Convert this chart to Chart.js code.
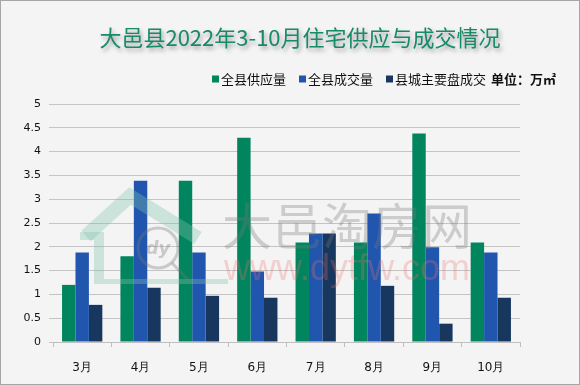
<!DOCTYPE html>
<html>
<head>
<meta charset="utf-8">
<script src="https://cdn.jsdelivr.net/npm/chart.js@4/dist/chart.umd.min.js"></script>
<style>
  html, body { margin: 0; padding: 0; background: #f4f4f4; }
  #wrap { width: 580px; height: 385px; }
</style>
</head>
<body>
<div id="wrap"><canvas id="myChart" width="580" height="385"></canvas></div>
<script>
// du lieu doc tu hinh
const gMonths = ["3月", "4月", "5月", "6月", "7月", "8月", "9月", "10月"];
const gSupply = [1.2, 1.8, 3.39, 4.29, 2.09, 2.09, 4.38, 2.09];
const gDeal = [1.88, 3.39, 1.88, 1.48, 2.28, 2.7, 1.99, 1.88];
const gCityDeal = [0.78, 1.14, 0.97, 0.93, 2.28, 1.18, 0.385, 0.93];
const gSeriesNames = ["全县供应量", "全县成交量", "县城主要盘成交"];
const gColors = ["#00855f", "#2156ae", "#17375e"];

const gTitle = "大邑县2022年3-10月住宅供应与成交情况";
const gUnit = "单位：万㎡";

// nen + vien
const bgPlugin = {
   id: "bgPlugin",
   beforeDraw: function (chart) {
      var ctx = chart.ctx;
      ctx.save();
      ctx.fillStyle = "#f4f4f4";
      ctx.fillRect(0, 0, chart.width, chart.height);
      ctx.strokeStyle = "#a6a6a6";
      ctx.lineWidth = 1;
      ctx.strokeRect(0.5, 0.5, chart.width - 1, chart.height - 1);
      ctx.restore();
   },
   afterDraw: function (chart) {
      var ctx = chart.ctx;
      ctx.save();
      // tieu de
      ctx.font = "22px 'Noto Sans CJK SC'";
      ctx.textAlign = "center";
      ctx.textBaseline = "middle";
      ctx.shadowColor = "rgba(0,0,0,0.35)";
      ctx.shadowBlur = 4;
      ctx.shadowOffsetX = 2;
      ctx.shadowOffsetY = 3;
      ctx.fillStyle = "#168a69";
      ctx.fillText(gTitle, 300, 38);
      ctx.restore();

      // chu thich
      ctx.save();
      ctx.font = "13px 'Noto Sans CJK SC'";
      ctx.textBaseline = "middle";
      var vX = 212;
      var vY = 79;
      chart.data.datasets.forEach(function (ds) {
         ctx.fillStyle = ds.backgroundColor;
         ctx.fillRect(vX, vY - 3.5, 7, 7);
         ctx.fillStyle = "#111";
         ctx.fillText(ds.label, vX + 9, vY);
         vX += 9 + ctx.measureText(ds.label).width + 13;
      });
      ctx.font = "bold 13px 'Noto Sans CJK SC'";
      ctx.fillText(gUnit, 491, vY);
      ctx.restore();
   },
   afterDatasetsDraw: function (chart) {
      // watermark
      var ctx = chart.ctx;
      ctx.save();
      ctx.lineCap = "butt";
      ctx.strokeStyle = "rgba(130,195,175,0.35)";
      ctx.lineWidth = 14;
      ctx.beginPath();
      ctx.moveTo(86, 236);
      ctx.lineTo(130, 196);
      ctx.lineTo(198, 238);
      ctx.stroke();
      ctx.fillStyle = "rgba(130,195,175,0.35)";
      ctx.fillRect(80, 232, 14, 8);
      ctx.fillRect(94, 232, 10, 52);
      ctx.fillRect(104, 279, 124, 5);
      ctx.strokeStyle = "rgba(120,120,120,0.35)";
      ctx.lineWidth = 3;
      ctx.beginPath();
      ctx.arc(158, 248, 20, 0, Math.PI * 2);
      ctx.stroke();
      ctx.beginPath();
      ctx.moveTo(172, 263);
      ctx.lineTo(190, 282);
      ctx.stroke();
      ctx.fillStyle = "rgba(120,120,120,0.35)";
      ctx.font = "italic bold 18px 'DejaVu Sans'";
      ctx.textAlign = "center";
      ctx.textBaseline = "middle";
      ctx.fillText("dy", 158, 249);

      ctx.textAlign = "left";
      ctx.textBaseline = "alphabetic";
      ctx.fillStyle = "rgba(120,120,120,0.32)";
      ctx.font = "50px 'Noto Sans CJK SC'";
      ctx.fillText("大邑淘房网", 222, 245);
      ctx.fillStyle = "rgba(235,110,110,0.28)";
      ctx.font = "36px 'Liberation Sans'";
      ctx.fillText("www.dytfw.com", 224, 280);
      ctx.restore();
   },
};

var vCtx = document.getElementById("myChart").getContext("2d");
new Chart(vCtx, {
   type: "bar",
   data: {
      labels: gMonths,
      datasets: [
         { label: gSeriesNames[0], data: gSupply, backgroundColor: gColors[0] },
         { label: gSeriesNames[1], data: gDeal, backgroundColor: gColors[1] },
         { label: gSeriesNames[2], data: gCityDeal, backgroundColor: gColors[2] },
      ],
   },
   options: {
      responsive: false,
      animation: false,
      devicePixelRatio: 1,
      layout: { padding: { top: 104, right: 60, bottom: 0, left: 0 } },
      datasets: { bar: { categoryPercentage: 0.69, barPercentage: 1 } },
      plugins: {
         legend: { display: false },
         title: { display: false },
         tooltip: { enabled: false },
      },
      scales: {
         x: {
            afterFit: function (scale) { scale.height = 43; },
            grid: { display: true, drawOnChartArea: false, drawTicks: true, tickLength: 5, color: "#bfbfbf", offset: true },
            border: { display: true, color: "#bfbfbf" },
            ticks: { color: "#111", font: { size: 12, family: "'DejaVu Sans'" }, padding: 14 },
         },
         y: {
            min: 0,
            max: 5,
            afterFit: function (scale) { scale.width = 53; },
            ticks: {
               stepSize: 0.5,
               color: "#111",
               font: { size: 11, family: "'DejaVu Sans'" },
               padding: 8,
               callback: function (value) { return String(Number(value)); },
            },
            grid: { color: "#c4c4c4", tickLength: 4 },
            border: { display: false },
         },
      },
   },
   plugins: [bgPlugin],
});
</script>
</body>
</html>
